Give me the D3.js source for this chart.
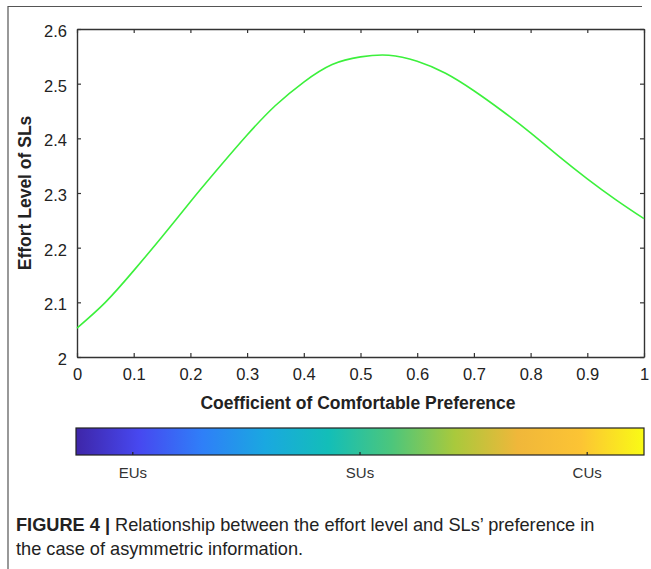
<!DOCTYPE html>
<html>
<head>
<meta charset="utf-8">
<script src="https://cdn.jsdelivr.net/npm/d3@7"></script>
<style>
  body { margin: 0; background: #fff; }
  svg { display: block; font-family: "Liberation Sans", Arial, sans-serif; }
</style>
</head>
<body>
<svg id="chart"></svg>
<script>
// curve
const prefCoef = [0, 0.05, 0.1, 0.15, 0.2, 0.25, 0.3, 0.35, 0.4, 0.45, 0.5, 0.55, 0.6, 0.65, 0.7, 0.75, 0.8, 0.85, 0.9, 0.95, 1];
const effortLevel = [2.053, 2.100, 2.158, 2.220, 2.284, 2.346, 2.406, 2.460, 2.503, 2.535, 2.549, 2.552, 2.541, 2.519, 2.487, 2.450, 2.410, 2.367, 2.326, 2.288, 2.253];

const xTicks = [0, 0.1, 0.2, 0.3, 0.4, 0.5, 0.6, 0.7, 0.8, 0.9, 1];
const yTicks = [2, 2.1, 2.2, 2.3, 2.4, 2.5, 2.6];

const barLabels = ["EUs", "SUs", "CUs"];
const barTickPos = [0.1, 0.5, 0.9];
// parula-like stops
const barColors = ["#3e26a8", "#4748f0", "#2f7ff8", "#1aa8e0", "#13beb8", "#4cc67c", "#a9c93c", "#f0b73a", "#fcc434", "#f9fb15"];

const width = 651;
const height = 569;
const marginLeft = 77;
const marginRight = 7;
const marginTop = 29;
const plotBottom = 357;

const svg = d3.select("#chart")
    .attr("width", width)
    .attr("height", height);

// outer frame (top + left only)
svg.append("path")
    .attr("d", `M8,${height} V6.5 H642`)
    .attr("fill", "none")
    .attr("stroke", "#555")
    .attr("stroke-width", 1.2);

const x = d3.scaleLinear()
    .domain([0, 1])
    .range([marginLeft, width - marginRight]);

const y = d3.scaleLinear()
    .domain([2, 2.6])
    .range([plotBottom, marginTop]);

const axisColor = "#333";

// inward ticks on all four sides (matlab box)
function styleAxis(g) {
    g.select(".domain").attr("stroke", axisColor).attr("stroke-width", 1.4);
    g.selectAll(".tick line").attr("stroke", axisColor).attr("stroke-width", 1.2);
    g.selectAll(".tick text")
        .attr("fill", "#222")
        .style("font-size", "16.5px");
}

svg.append("g")
    .attr("transform", `translate(0,${plotBottom})`)
    .call(d3.axisBottom(x).tickValues(xTicks).tickFormat(d3.format("")).tickSizeInner(-4).tickSizeOuter(0).tickPadding(11))
    .call(styleAxis);

svg.append("g")
    .attr("transform", `translate(0,${marginTop})`)
    .call(d3.axisTop(x).tickValues(xTicks).tickFormat("").tickSizeInner(-4).tickSizeOuter(0))
    .call(styleAxis);

svg.append("g")
    .attr("transform", `translate(${marginLeft},0)`)
    .call(d3.axisLeft(y).tickValues(yTicks).tickFormat(d3.format("")).tickSizeInner(-4).tickSizeOuter(0).tickPadding(10))
    .call(styleAxis)
    .call(g => g.selectAll(".tick text").attr("dy", "0.45em"));

svg.append("g")
    .attr("transform", `translate(${width - marginRight},0)`)
    .call(d3.axisRight(y).tickValues(yTicks).tickFormat("").tickSizeInner(-4).tickSizeOuter(0))
    .call(styleAxis);

const line = d3.line()
    .x((d, i) => x(prefCoef[i]))
    .y(d => y(d))
    .curve(d3.curveNatural);

svg.append("path")
    .attr("fill", "none")
    .attr("stroke", "#3cf03c")
    .attr("stroke-width", 1.6)
    .attr("d", line(effortLevel));

// axis titles
svg.append("text")
    .attr("x", 358)
    .attr("y", 409)
    .attr("text-anchor", "middle")
    .attr("fill", "#222")
    .style("font-size", "17.5px")
    .style("font-weight", "bold")
    .text("Coefficient of Comfortable Preference");

svg.append("text")
    .attr("transform", "translate(31,193) rotate(-90)")
    .attr("text-anchor", "middle")
    .attr("fill", "#222")
    .style("font-size", "17.5px")
    .style("font-weight", "bold")
    .text("Effort Level of SLs");

// colorbar
const barTop = 428;
const barH = 27;
const cb = d3.scaleLinear().domain([0, 1]).range([76, 644]);

const grad = svg.append("defs").append("linearGradient")
    .attr("id", "parula")
    .attr("x1", "0%").attr("x2", "100%");
grad.selectAll("stop")
    .data(barColors)
    .join("stop")
    .attr("offset", (d, i) => (i / (barColors.length - 1) * 100) + "%")
    .attr("stop-color", d => d);

svg.append("rect")
    .attr("x", cb(0))
    .attr("y", barTop)
    .attr("width", cb(1) - cb(0))
    .attr("height", barH)
    .attr("fill", "url(#parula)")
    .attr("stroke", "#222")
    .attr("stroke-width", 1.2);

svg.append("g")
    .selectAll("line")
    .data(barTickPos)
    .join("line")
    .attr("x1", d => cb(d)).attr("x2", d => cb(d))
    .attr("y1", barTop + barH).attr("y2", barTop + barH - 3)
    .attr("stroke", "#222")
    .attr("stroke-width", 1.2);

svg.append("g")
    .selectAll("text")
    .data(barLabels)
    .join("text")
    .attr("x", (d, i) => cb(barTickPos[i]))
    .attr("y", 478)
    .attr("text-anchor", "middle")
    .attr("fill", "#333")
    .style("font-size", "15px")
    .text(d => d);

// caption
const cap = svg.append("text")
    .attr("x", 16)
    .attr("y", 531)
    .attr("fill", "#222")
    .style("font-size", "18.2px");
cap.append("tspan").style("font-weight", "bold").text("FIGURE 4 | ");
cap.append("tspan").text("Relationship between the effort level and SLs\u2019 preference in");

svg.append("text")
    .attr("x", 16)
    .attr("y", 555)
    .attr("fill", "#222")
    .style("font-size", "18.2px")
    .text("the case of asymmetric information.");
</script>
</body>
</html>
